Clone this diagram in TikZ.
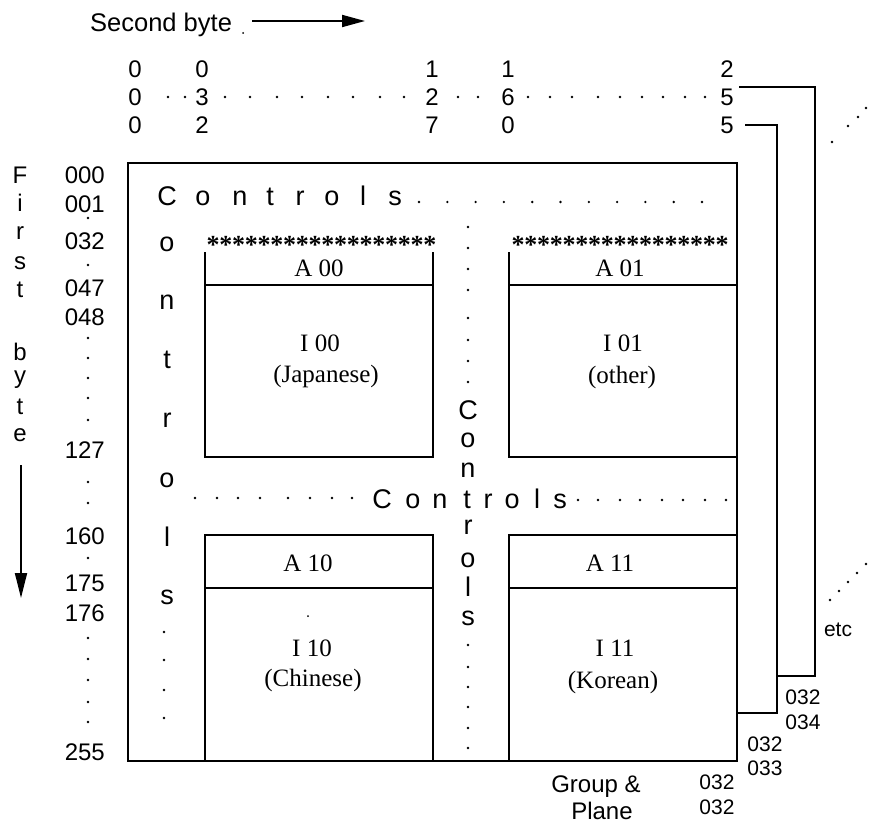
\documentclass[tikz,border=0pt]{standalone}
\usepackage{fontspec}
\setmainfont{Liberation Serif}
\newfontfamily\hsans{Liberation Sans}
\usetikzlibrary{arrows.meta}
\begin{document}
\begin{tikzpicture}[x=1pt,y=-1pt,
  sanslbl/.style={font=\hsans\fontsize{24}{26}\selectfont, inner sep=0pt},
  headlbl/.style={font=\hsans\fontsize{25.5}{27}\selectfont, inner sep=0pt},
  smalllbl/.style={font=\hsans\fontsize{21}{23}\selectfont, inner sep=0pt},
  ctrl/.style={font=\hsans\fontsize{27}{29}\selectfont, inner sep=0pt},
  serlbl/.style={font=\fontsize{25}{27}\selectfont, inner sep=0pt},
  astx/.style={font=\bfseries\fontsize{26}{28}\selectfont, inner sep=0pt, anchor=base},
  mainbox/.style={line width=2pt},
  boxline/.style={line width=2.4pt},
  bracket/.style={line width=2pt},
  dotm/.style={circle, fill=black, inner sep=0pt, minimum size=2.6pt}]
\useasboundingbox (0,0) rectangle (872,824);

% ---- heading and arrow
\node[headlbl, anchor=base west] (sb) at (90,32) {Second byte};
\node[dotm, minimum size=2pt] (sbdot) at (243,33) {};
\coordinate (sbA) at (252,21);
\coordinate (sbB) at (365,21);
\draw[line width=1.8pt, -{Triangle[length=23pt,width=12pt]}] (sbA) -- (sbB);

% ---- column digits
\foreach \x/\a/\b/\c/\n in {135/0/0/0/c1, 202/0/3/2/c2, 432/1/2/7/c3, 508/1/6/0/c4, 727/2/5/5/c5}{
  \node[sanslbl] (\n a) at (\x,69) {\a};
  \node[sanslbl] (\n b) at (\x,97) {\b};
  \node[sanslbl] (\n c) at (\x,125) {\c};
}
\foreach \x in {168,185,225,250,277,302,328,353,380,404,458,478,528,550,572,598,620,642,663,685,705}
  \node[dotm] at (\x,97) {};

% ---- stacked planes
\coordinate (p2a) at (745,125);
\coordinate (p2b) at (777,125);
\coordinate (p2c) at (777,713);
\coordinate (p2d) at (737,713);
\draw[bracket] (p2a) -- (p2b) -- (p2c) -- (p2d);
\coordinate (p3a) at (739,87);
\coordinate (p3b) at (815,87);
\coordinate (p3c) at (815,676);
\coordinate (p3d) at (777,676);
\draw[bracket] (p3a) -- (p3b) -- (p3c) -- (p3d);
\foreach \x/\y in {832/142,848/126,858/117,866/108}
  \node[dotm] at (\x,\y) {};
\foreach \x/\y in {830/600,839/591,848/582,857/573,866/564}
  \node[dotm] at (\x,\y) {};
\node[smalllbl] (etc) at (838,630) {etc};
\node[smalllbl] (g4a) at (803,697) {032};
\node[smalllbl] (g4b) at (803,722) {034};
\node[smalllbl] (g3a) at (765,744) {032};
\node[smalllbl] (g3b) at (765,768) {033};
\node[smalllbl] (g2a) at (717,782) {032};
\node[smalllbl] (g2b) at (717,807) {032};
\node[sanslbl, anchor=base] (grp) at (596,792) {Group \&};
\node[sanslbl, anchor=base] (pln) at (602,819) {Plane};

% ---- main box
\coordinate (mNW) at (128,163);
\coordinate (mSE) at (737,761);
\draw[mainbox] (mNW) rectangle (mSE);

% ---- first byte label and arrow
\foreach \ch/\y in {F/175,i/203,r/233,s/263,t/290,b/352,y/380,t/407,e/435}
  \node[sanslbl] at (20,\y) {\ch};
\coordinate (fbA) at (21,465);
\coordinate (fbB) at (21,598);
\draw[line width=1.8pt, -{Triangle[length=25pt,width=12pt]}] (fbA) -- (fbB);

% ---- row numbers
\foreach \t/\y in {000/175,001/204,032/241,047/288,048/317,127/450,160/536,175/583,176/613,255/752}
  \node[sanslbl, anchor=east] at (105,\y) {\t};
\foreach \y in {218,265,338,358,378,398,420,482,503,558,638,659,680,702,722}
  \node[dotm] at (88,\y) {};

% ---- inner boxes
\draw[boxline] (205,252) -- (205,457) -- (433,457) -- (433,252);
\draw[boxline] (205,285) -- (433,285);
\draw[boxline] (509,252) -- (509,457) -- (737,457);
\draw[boxline] (509,285) -- (737,285);
\draw[boxline] (205,761) -- (205,535) -- (433,535) -- (433,761);
\draw[boxline] (205,588) -- (433,588);
\draw[boxline] (509,761) -- (509,535) -- (737,535);
\draw[boxline] (509,588) -- (737,588);

\foreach \k in {0,...,17}
  \node[astx] at ({213+12.76*\k},253) {*};
\foreach \k in {0,...,16}
  \node[astx] at ({518+12.75*\k},253) {*};

\node[serlbl] (a00) at (319,268) {A 00};
\node[serlbl] (i00) at (320,343) {I 00};
\node[serlbl] (j00) at (326,376) {(Japanese)};
\node[serlbl] (a01) at (620,268) {A 01};
\node[serlbl] (i01) at (623,343) {I 01};
\node[serlbl] (o01) at (622,377) {(other)};
\node[serlbl] (a10) at (308,563) {A 10};
\node[serlbl] (i10) at (312,648) {I 10};
\node[serlbl] (c10) at (313,680) {(Chinese)};
\node[dotm, minimum size=2pt] at (308,616) {};
\node[serlbl] (a11) at (610,563) {A 11};
\node[serlbl] (i11) at (615,648) {I 11};
\node[serlbl] (k11) at (613,682) {(Korean)};

% ---- Controls: top row
\foreach \ch/\x in {C/167,o/203,n/240,t/270,r/300,o/332,l/363,s/395}
  \node[ctrl, anchor=base] at (\x,205) {\ch};
\foreach \k in {0,...,10}
  \node[dotm] at ({419+28.3*\k},202) {};
% ---- Controls: left column
\foreach \ch/\y in {o/244,n/302,t/360,r/420,o/480,l/537,s/597}
  \node[ctrl] at (167,\y) {\ch};
\foreach \y in {632,660,690,718}
  \node[dotm] at (164,\y) {};
% ---- Controls: middle column
\foreach \y in {227,248,269,290,318,340,361,382,645,667,687,707,728,748}
  \node[dotm] at (468,\y) {};
\foreach \ch/\y in {C/410,o/440,n/470,r/527,o/560,l/587,s/618}
  \node[ctrl] at (468,\y) {\ch};
% ---- Controls: middle row
\foreach \ch/\x in {C/382,o/413,n/440,t/467,r/488,o/512,l/537,s/560}
  \node[ctrl, anchor=base] at (\x,508) {\ch};
\foreach \x in {195,217,238,260,288,310,332,352}
  \node[dotm] at (\x,498) {};
\foreach \x in {578,598,620,640,662,683,705,726}
  \node[dotm] at (\x,500) {};
\end{tikzpicture}
\end{document}
